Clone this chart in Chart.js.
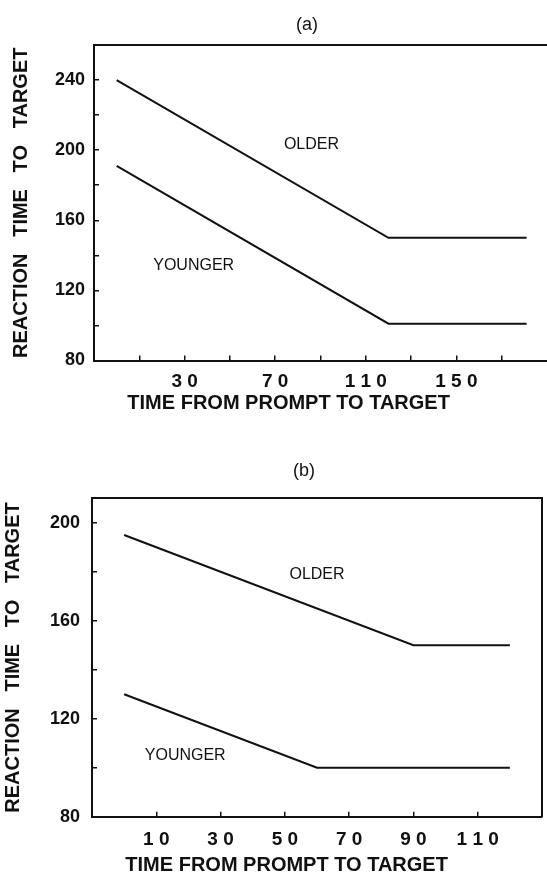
<!DOCTYPE html>
<html>
<head>
<meta charset="utf-8">
<script src="https://cdn.jsdelivr.net/npm/chart.js@4.4.1/dist/chart.umd.min.js"></script>
<style>
  html, body { margin: 0; padding: 0; background: #fff; }
  .page { position: relative; width: 547px; height: 875px; overflow: hidden; background: #fff; }
  .panel { position: absolute; left: 0; }
  #panelA { top: 0; }
  #panelB { top: 440px; }
</style>
</head>
<body>
<div class="page">
  <canvas id="panelA" class="panel" width="547" height="430"></canvas>
  <canvas id="panelB" class="panel" width="547" height="445"></canvas>
</div>
<script>
// ── panel (a) data ──
const aTimes = [0, 120, 181];
const aOlder = [240, 150, 150];
const aYounger = [191, 101, 101];
const aXTicks = [10, 30, 50, 70, 90, 110, 130, 150, 170];
const aXLabels = [30, 70, 110, 150];
const aYTicks = [80, 100, 120, 140, 160, 180, 200, 220, 240];
const aYLabels = [80, 120, 160, 200, 240];

// ── panel (b) data ──
const bOlderTimes = [0, 90, 120];
const bOlder = [195, 150, 150];
const bYoungerTimes = [0, 60, 120];
const bYounger = [130, 100, 100];
const bXTicks = [10, 30, 50, 70, 90, 110];
const bXLabels = [10, 30, 50, 70, 90, 110];
const bYTicks = [80, 100, 120, 140, 160, 180, 200];
const bYLabels = [80, 120, 160, 200];

const ink = "#111";
const sans = "'Liberation Sans', Arial, sans-serif";

const toPoints = (xs, ys) => xs.map((x, i) => ({ x, y: ys[i] }));
const spaced = (v) => String(v).split("").join(" ");

/* panel letter + series tags drawn after the lines */
const panelText = {
  id: "panelText",
  afterDatasetsDraw(chart, args, opts) {
    const { ctx, scales } = chart;
    ctx.save();
    ctx.fillStyle = ink;
    ctx.textAlign = "center";
    ctx.textBaseline = "middle";
    ctx.font = "18px " + sans;
    ctx.fillText(opts.title, opts.titleX, opts.titleY);
    ctx.font = "16px " + sans;
    opts.tags.forEach((t) => {
      ctx.fillText(t.text, scales.x.getPixelForValue(t.x), scales.y.getPixelForValue(t.y));
    });
    ctx.restore();
  },
};

function makePanel(canvas, p) {
  const lineStyle = { borderColor: ink, borderWidth: 2, pointRadius: 0, tension: 0, fill: false };
  return new Chart(canvas, {
    type: "line",
    data: {
      datasets: [
        { label: "OLDER", data: p.older, ...lineStyle },
        { label: "YOUNGER", data: p.younger, ...lineStyle },
      ],
    },
    plugins: [panelText],
    options: {
      responsive: false,
      animation: false,
      events: [],
      layout: { padding: { top: p.top, right: p.right, left: 0, bottom: 0 } },
      plugins: {
        legend: { display: false },
        tooltip: { enabled: false },
        panelText: { title: p.title, titleX: p.titleX, titleY: p.titleY, tags: p.tags },
      },
      scales: {
        x: {
          type: "linear",
          min: p.xMin,
          max: p.xMax,
          afterBuildTicks: (s) => { s.ticks = p.xTicks.map((v) => ({ value: v })); },
          afterFit: (s) => { s.height = p.xAxisHeight; },
          border: { color: ink, width: 2 },
          grid: { drawOnChartArea: false, drawTicks: true, tickLength: -5, color: ink, lineWidth: 1.5 },
          ticks: {
            autoSkip: false,
            maxRotation: 0,
            padding: p.xTickPad,
            color: ink,
            font: { family: sans, size: 19, weight: "bold" },
            callback: (v) => (p.xLabels.includes(v) ? spaced(v) : ""),
          },
          title: {
            display: true,
            align: "start",
            // leading spaces push the title right, as in the original figure
            text: "      TIME FROM PROMPT TO TARGET",
            color: ink,
            font: { family: sans, size: 20, weight: "bold", lineHeight: 1 },
            padding: { top: 0, bottom: p.xTitlePad },
          },
        },
        y: {
          type: "linear",
          min: 80,
          max: p.yMax,
          afterBuildTicks: (s) => { s.ticks = p.yTicks.map((v) => ({ value: v })); },
          afterFit: (s) => { s.width = p.yAxisWidth; },
          border: { color: ink, width: 2 },
          grid: { drawOnChartArea: false, drawTicks: true, tickLength: -5, color: ink, lineWidth: 1.5 },
          ticks: {
            padding: p.yTickPad,
            color: ink,
            font: { family: sans, size: 18, weight: "bold" },
            callback: (v) => (p.yLabels.includes(v) ? String(v) : ""),
          },
          title: {
            display: true,
            text: "REACTION   TIME   TO   TARGET",
            color: ink,
            font: { family: sans, size: 20, weight: "bold", lineHeight: 1.2 },
            padding: { top: p.yTitlePad, bottom: 0 },
          },
        },
        top: {
          type: "linear",
          position: "top",
          afterFit: (s) => { s.height = 0; },
          border: { display: true, color: ink, width: 2 },
          grid: { drawOnChartArea: false, drawTicks: false },
          ticks: { display: false },
        },
        right: {
          type: "linear",
          position: "right",
          display: p.rightBorder,
          afterFit: (s) => { s.width = 0; },
          border: { display: true, color: ink, width: 2 },
          grid: { drawOnChartArea: false, drawTicks: false },
          ticks: { display: false },
        },
      },
    },
  });
}

makePanel(document.getElementById("panelA"), {
  older: toPoints(aTimes, aOlder),
  younger: toPoints(aTimes, aYounger),
  xMin: -10, xMax: 190, yMax: 260,
  xTicks: aXTicks, xLabels: aXLabels, yTicks: aYTicks, yLabels: aYLabels,
  top: 45, right: 0, rightBorder: false,
  xAxisHeight: 69.5, yAxisWidth: 94,
  xTickPad: 14.6, yTickPad: 14, xTitlePad: 17, yTitlePad: 9,
  title: "(a)", titleX: 307, titleY: 25,
  tags: [
    { text: "OLDER", x: 86, y: 203 },
    { text: "YOUNGER", x: 34, y: 134 },
  ],
});

makePanel(document.getElementById("panelB"), {
  older: toPoints(bOlderTimes, bOlder),
  younger: toPoints(bYoungerTimes, bYounger),
  xMin: -10, xMax: 130, yMax: 210,
  xTicks: bXTicks, xLabels: bXLabels, yTicks: bYTicks, yLabels: bYLabels,
  top: 58.3, right: 5, rightBorder: true,
  xAxisHeight: 68.3, yAxisWidth: 92,
  xTickPad: 16.6, yTickPad: 17, xTitlePad: 10, yTitlePad: 1,
  title: "(b)", titleX: 304, titleY: 31,
  tags: [
    { text: "OLDER", x: 60, y: 179 },
    { text: "YOUNGER", x: 19, y: 105 },
  ],
});
</script>
</body>
</html>
